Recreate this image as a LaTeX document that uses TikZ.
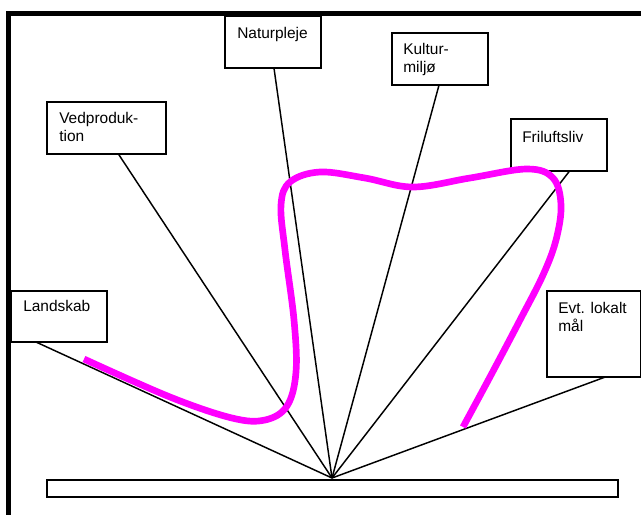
\documentclass[tikz,border=0pt]{standalone}
\usepackage{fontspec}
\setmainfont{Liberation Sans}
\usetikzlibrary{calc}

\definecolor{goalpink}{RGB}{255,0,255}

\tikzset{
  box/.style={draw, line width=1.4pt, anchor=north west, inner sep=0pt, outer sep=0pt},
  boxtext/.style={anchor=north west, align=left, inner sep=0pt,
    font=\fontsize{11.6}{13.8}\selectfont},
  spoke/.style={line width=1.1pt},
  goal/.style={line width=5pt, goalpink},
}

\begin{document}
\begin{tikzpicture}[x=0.75pt, y=-0.75pt]
\useasboundingbox (0, 0) rectangle (641, 514);

% frame
\draw [line width=3.8pt] (8.5, 530) to (8.5, 13.5) to (660, 13.5);

% boxes
\node [box, minimum width=96*0.75pt, minimum height=51*0.75pt] (1) at (11, 291) {};
\node [box, minimum width=119*0.75pt, minimum height=52*0.75pt] (2) at (47, 102) {};
\node [box, minimum width=96*0.75pt, minimum height=52*0.75pt] (3) at (225, 16) {};
\node [box, minimum width=96*0.75pt, minimum height=52*0.75pt] (4) at (392, 33) {};
\node [box, minimum width=96*0.75pt, minimum height=52*0.75pt] (5) at (511, 119) {};
\node [box, minimum width=94*0.75pt, minimum height=86*0.75pt] (6) at (547, 291) {};
\node [box, minimum width=571*0.75pt, minimum height=17*0.75pt] (7) at (47, 480) {};
\coordinate (0) at (332, 478);

% labels
\node [boxtext] (11) at ($(1.north west)+(12, 9)$) {Landskab};
\node [boxtext] (12) at ($(2.north west)+(12, 10)$) {Vedproduk-\\tion};
\node [boxtext] (13) at ($(3.north west)+(12, 11)$) {Naturpleje};
\node [boxtext] (14) at ($(4.north west)+(11, 10)$) {Kultur-\\miljø};
\node [boxtext] (15) at ($(5.north west)+(11, 12)$) {Friluftsliv};
\node [boxtext] (16) at ($(6.north west)+(11, 11)$) {Evt. lokalt\\mål};

% spokes
\draw [spoke] (0) to ($(1.south west)!0.26!(1.south east)$);
\draw [spoke] (0) to ($(2.south west)!0.6!(2.south east)$);
\draw [spoke] (0) to ($(3.south west)!0.51!(3.south east)$);
\draw [spoke] (0) to ($(4.south west)!0.49!(4.south east)$);
\draw [spoke] (0) to ($(5.south west)!0.61!(5.south east)$);
\draw [spoke] (0) to ($(6.south west)!0.62!(6.south east)$);

% goal curve
\draw [goal] plot [smooth, tension=0.6] coordinates {
  (84, 359) (170, 397) (232, 418) (265, 420) (287, 406) (296, 372)
  (294, 320) (285, 250) (281, 205) (290, 182) (320, 172) (365, 178)
  (413, 187) (470, 178) (527, 169) (553, 178) (561, 205) (556, 240)
  (543, 275) (520, 320) (491, 375) (463, 427)};
\end{tikzpicture}
\end{document}
